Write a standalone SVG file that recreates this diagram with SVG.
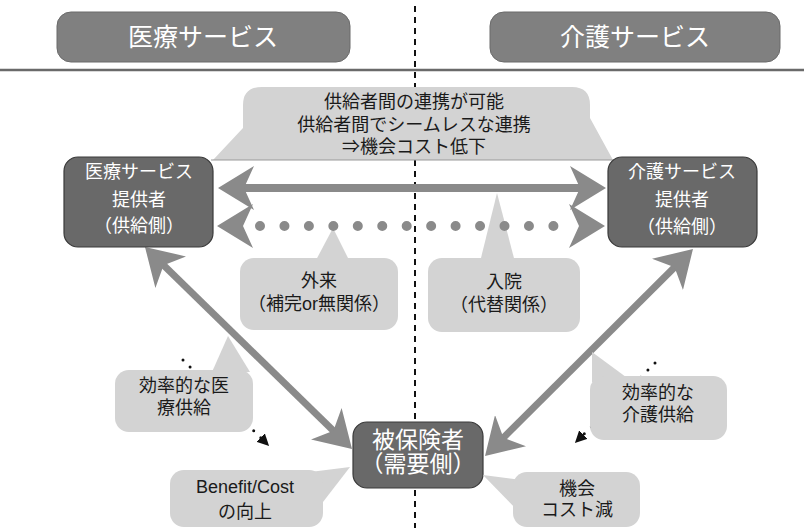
<svg xmlns="http://www.w3.org/2000/svg" width="804" height="528" viewBox="0 0 804 528">
<defs>
<style>
text{font-family:"Liberation Sans","Noto Sans CJK JP",sans-serif;text-anchor:middle;dominant-baseline:central}
.hdr{fill:#808080;stroke:#6a6a6a;stroke-width:1}
.hdrt{fill:#fff;font-size:25px}
.node{fill:#696969;stroke:#3a3a3a;stroke-width:1.2}
.nodet{fill:#fff;font-size:18px}
.call{fill:#d3d3d3}
.callt{fill:#1a1a1a;font-size:18px}
.arr{stroke:#8a8a8a;fill:none}
</style>
<marker id="ah" viewBox="0 0 36 44" markerWidth="36" markerHeight="44" refX="16" refY="22" orient="auto-start-reverse" markerUnits="userSpaceOnUse">
<path d="M0,0 L36,22 L0,44 L10,22 Z" fill="#8a8a8a"/>
</marker>
<marker id="sh" viewBox="0 0 12 12" markerWidth="12" markerHeight="12" refX="2" refY="6" orient="auto" markerUnits="userSpaceOnUse">
<path d="M0,0 L12,6 L0,12 Z" fill="#111"/>
</marker>
</defs>
<rect width="804" height="528" fill="#fff"/>

<g id="frame">
<line x1="0" y1="70" x2="804" y2="70" stroke="#6a6a6a" stroke-width="2.5"/>
<line x1="415" y1="6" x2="415" y2="528" stroke="#111" stroke-width="2" stroke-dasharray="6 5"/>
</g>

<g id="hdr-medical">
<rect class="hdr" x="57" y="12" width="293" height="50" rx="14"/>
<text class="hdrt" x="203" y="37">医療サービス</text>
</g>
<g id="hdr-care">
<rect class="hdr" x="490" y="12" width="290" height="50" rx="14"/>
<text class="hdrt" x="635" y="37">介護サービス</text>
</g>

<g id="callout-top">
<path class="call" d="M262,87 H572 Q590,87 590,105 L590,118 L613,160 L213,160 L243,128 L243,105 Q243,87 262,87 Z"/>
<line x1="211" y1="160" x2="615" y2="160" stroke="#9a9a9a" stroke-width="1.2"/>
<text class="callt" x="414" y="102">供給者間の連携が可能</text>
<text class="callt" x="414" y="125">供給者間でシームレスな連携</text>
<text class="callt" x="414" y="147">⇒機会コスト低下</text>
</g>

<g id="callout-gairai">
<path class="call" d="M315,262 L333,228 L350,262 Z"/>
<rect class="call" x="240" y="258" width="158" height="72" rx="14"/>
<text class="callt" x="319" y="281">外来</text>
<text class="callt" x="319" y="304">（補完or無関係）</text>
</g>

<g id="callout-nyuin">
<path class="call" d="M480,262 L497,193 L515,262 Z"/>
<rect class="call" x="428" y="258" width="152" height="74" rx="14"/>
<text class="callt" x="504" y="282">入院</text>
<text class="callt" x="504" y="305">（代替関係）</text>
</g>

<g id="connectors">
<line class="arr" x1="238" y1="188" x2="586" y2="188" stroke-width="8" marker-start="url(#ah)" marker-end="url(#ah)"/>
<path d="M237,226 L585,226" stroke="none" fill="none" marker-start="url(#ah)" marker-end="url(#ah)"/>
<line x1="260" y1="226" x2="554" y2="226" stroke="#8a8a8a" stroke-width="10" stroke-linecap="round" stroke-dasharray="0 24.45"/>
<line class="arr" x1="159.3" y1="261" x2="337.7" y2="435" stroke-width="7" marker-start="url(#ah)" marker-end="url(#ah)"/>
<line class="arr" x1="678.8" y1="263.1" x2="499.2" y2="441.9" stroke-width="7" marker-start="url(#ah)" marker-end="url(#ah)"/>
<line x1="183" y1="360" x2="262" y2="439" stroke="#111" stroke-width="3" stroke-linecap="round" stroke-dasharray="0 10" marker-end="url(#sh)"/>
<line x1="655" y1="363" x2="582" y2="436" stroke="#111" stroke-width="3" stroke-linecap="round" stroke-dasharray="0 10" marker-end="url(#sh)"/>
</g>

<g id="callout-iryo">
<path class="call" d="M212,372 L228,336 L250,372 Z"/>
<rect class="call" x="115" y="370" width="138" height="62" rx="14"/>
<text class="callt" x="184" y="386">効率的な医</text>
<text class="callt" x="184" y="408">療供給</text>
</g>

<g id="callout-kaigo">
<path class="call" d="M592,352 L592,382 L630,380 Z"/>
<rect class="call" x="590" y="376" width="137" height="64" rx="14"/>
<text class="callt" x="658" y="393">効率的な</text>
<text class="callt" x="658" y="415">介護供給</text>
</g>

<g id="node-medical">
<rect class="node" x="64" y="157" width="149" height="90" rx="14"/>
<text class="nodet" x="139" y="172">医療サービス</text>
<text class="nodet" x="139" y="200">提供者</text>
<text class="nodet" x="139" y="226">（供給側）</text>
</g>
<g id="node-care">
<rect class="node" x="608" y="157" width="149" height="90" rx="14"/>
<text class="nodet" x="682" y="172">介護サービス</text>
<text class="nodet" x="682" y="200">提供者</text>
<text class="nodet" x="682" y="227">（供給側）</text>
</g>
<g id="node-insured">
<rect class="node" x="353" y="422" width="130" height="66" rx="14"/>
<text class="nodet" x="418" y="440" style="font-size:23px">被保険者</text>
<text class="nodet" x="418" y="464" style="font-size:23px">（需要側）</text>
</g>

<g id="callout-benefit">
<path class="call" d="M310,472 L350,467 L323,502 Z"/>
<rect class="call" x="170" y="470" width="153" height="57" rx="14"/>
<text class="callt" x="245" y="487">Benefit/Cost</text>
<text class="callt" x="245" y="512">の向上</text>
</g>
<g id="callout-cost">
<path class="call" d="M483,475 L522,480 L522,515 Z"/>
<rect class="call" x="513" y="472" width="127" height="55" rx="14"/>
<text class="callt" x="577" y="489">機会</text>
<text class="callt" x="577" y="510">コスト減</text>
</g>
</svg>
